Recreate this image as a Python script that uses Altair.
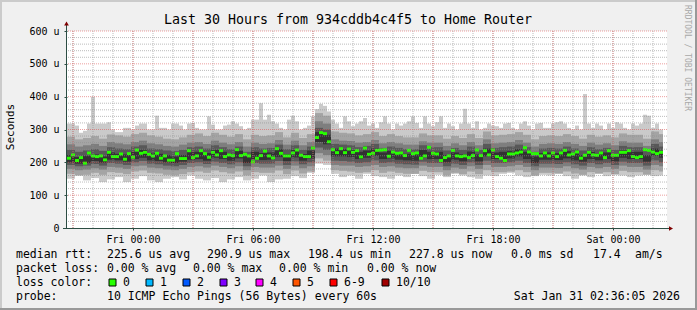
import altair as alt
import pandas as pd

TITLE = "Last 30 Hours from 934cddb4c4f5 to Home Router"

# median rtt (us), one value per 12-minute step
median = [213,223,206,215,198,229,220,218,220,208,
          231,218,218,226,210,227,216,238,228,231,
          225,220,228,213,220,207,207,227,212,212,
          236,215,220,236,227,216,231,223,236,218,
          223,221,239,221,225,220,202,213,221,235,
          220,214,242,228,220,220,229,238,222,218,
          218,244,276,291,288,263,239,230,242,230,
          241,231,236,217,244,225,228,237,238,239,
          219,232,228,229,221,237,227,229,213,220,
          246,228,226,206,215,220,237,220,218,220,
          215,221,238,221,236,223,238,218,213,206,
          226,226,229,232,245,232,227,227,220,229,
          220,229,218,229,237,223,226,232,213,222,
          231,223,222,229,215,236,222,222,231,231,
          236,218,215,218,239,237,232,227,231]

# outermost smoke (ping 10 of 10), per 12-minute step
l1_hi = [318,318,312,290,296,318,400,318,318,318,
         322,300,292,292,305,305,300,312,318,318,
         300,300,342,305,305,300,318,318,312,300,
         318,320,305,300,300,340,315,300,300,312,
         315,325,318,310,300,305,330,330,380,330,
         345,325,318,305,300,330,342,325,300,305,
         312,340,362,378,372,355,330,318,305,340,
         325,310,318,325,335,312,318,305,322,340,
         318,300,318,312,318,325,340,320,305,340,
         318,310,322,340,305,318,310,300,318,363,
         318,305,325,300,305,318,312,310,305,318,
         320,305,300,318,325,312,300,318,320,305,
         305,318,322,325,318,305,300,312,300,408,
         318,305,318,312,300,318,305,322,318,305,
         300,318,312,318,345,342,305,318,300]

# remaining smoke bounds, per 24-minute window
l1_lo = [150,160,145,152,140,148,155,140,150,158,
         145,140,150,155,148,160,150,145,152,140,
         148,155,145,150,160,140,148,150,158,152,
         168,196,192,165,155,160,150,165,158,155,
         150,160,155,165,158,150,162,155,165,160,
         155,150,160,158,165,168,160,155,158,162,
         160,165,158,150,160,155,165,158,162,160,
         155,160,165,158,160]
l2_lo = [165,160,162,168,162,170,168,164,172,175,
         168,166,162,160,164,170,172,168,175,170,
         166,172,160,170,168,168,175,164,175,166,
         172,212,205,176,174,172,168,170,176,168,
         172,168,165,165,174,170,170,160,168,164,
         172,164,176,170,170,172,176,170,160,168,
         168,166,172,166,162,170,166,170,164,174,
         170,170,162,176,172]
l2_hi = [278,270,274,280,272,285,282,278,286,290,
         282,278,272,270,276,284,288,280,290,284,
         278,286,270,284,280,282,292,276,290,274,
         286,350,342,294,290,288,282,286,292,280,
         286,280,276,276,288,282,282,272,280,274,
         286,274,294,282,284,286,292,284,270,280,
         282,280,286,280,272,284,278,282,276,288,
         284,284,272,294,286]
l3_lo = [180,176,178,182,178,186,184,180,188,190,
         184,182,178,176,180,186,188,184,190,186,
         182,188,176,186,184,184,190,180,190,182,
         188,228,222,192,190,190,186,188,192,186,
         188,184,182,182,190,186,186,176,184,180,
         188,180,192,186,186,188,192,186,176,184,
         184,183,188,182,178,186,182,186,180,190,
         186,186,178,192,188]
l3_hi = [255,248,252,256,250,262,258,255,262,266,
         258,255,250,248,254,260,262,256,266,260,
         255,262,248,260,256,258,268,254,266,252,
         262,325,318,270,266,265,260,262,268,258,
         262,258,254,254,264,260,260,250,258,252,
         262,252,270,258,260,262,268,260,248,256,
         258,256,262,256,250,260,254,258,252,264,
         260,260,250,270,262]
l4_lo = [192,188,190,195,190,198,196,192,200,204,
         196,194,190,188,192,198,200,195,202,198,
         194,200,188,198,196,196,204,192,203,194,
         200,245,238,205,204,202,198,200,206,198,
         200,196,194,193,202,198,198,188,196,192,
         200,192,205,198,198,200,205,198,188,196,
         196,195,200,194,190,198,194,198,192,202,
         198,198,190,206,200]
l4_hi = [238,232,236,240,235,246,242,240,248,252,
         242,240,236,234,238,246,248,242,252,246,
         240,248,232,246,242,244,254,240,252,238,
         248,305,300,256,254,252,246,250,256,244,
         248,244,240,240,252,246,246,236,244,238,
         248,238,256,244,246,248,254,246,232,242,
         244,242,248,242,236,246,240,244,238,250,
         246,246,236,256,248]
l5_lo = [200,196,198,204,199,208,206,202,210,214,
         206,204,200,198,202,208,210,205,214,210,
         205,212,198,210,207,208,216,204,215,205,
         212,262,255,218,218,216,210,214,220,210,
         212,208,206,205,215,210,210,200,208,203,
         212,203,218,210,210,212,218,210,198,208,
         208,207,212,206,202,210,206,210,203,214,
         210,210,202,220,214]
l5_hi = [222,216,220,224,218,230,226,224,232,238,
         228,226,222,218,222,231,232,228,238,232,
         226,235,218,232,228,230,240,225,238,225,
         236,292,284,242,240,238,232,236,242,230,
         235,230,226,226,238,232,232,222,230,224,
         233,224,242,230,232,234,240,232,218,228,
         230,228,234,228,222,232,226,230,224,236,
         232,232,222,242,235]

# axis ticks (hours from start of graph; Fri 00:00 at 3.3 h)
X_LABEL_POS = [3.3, 9.3, 15.3, 21.3, 27.3]
X_LABELS = ["Fri 00:00", "Fri 06:00", "Fri 12:00", "Fri 18:00", "Sat 00:00"]
X_MINOR = [0.3 + h for h in range(30)]
X_MAJOR = [0.3 + h for h in range(0, 30, 3)]
Y_MAJOR = [100, 200, 300, 400, 500, 600]
Y_MINOR = [v for v in range(20, 600, 20) if v % 100]
Y_TICKS = [0, 100, 200, 300, 400, 500, 600]

LOSS_LABELS = ["0", "1", "2", "3", "4", "5", "6-9", "10/10"]
LOSS_COLORS = ["#26ff00", "#00b8ff", "#0059ff", "#7e00ff", "#ff00ff", "#ff5500", "#ff0000", "#a10000"]

STEP_H = 0.2  # hours per median step
rows = []
for k, m in enumerate(median):
    j = k // 2
    rows.append(dict(t0=k * STEP_H, t1=(k + 1) * STEP_H, med_lo=m - 5, med_hi=m + 4,
                     l1lo=l1_lo[j], l1hi=l1_hi[k], l2lo=l2_lo[j], l2hi=l2_hi[j],
                     l3lo=l3_lo[j], l3hi=l3_hi[j], l4lo=l4_lo[j], l4hi=l4_hi[j],
                     l5lo=l5_lo[j], l5hi=l5_hi[j]))
df = pd.DataFrame(rows)

W, H = 600, 197
PL, PT = 67, 31
MONO = "DejaVu Sans Mono"
AXIS_C = "#2c4d43"

xs = alt.Scale(domain=[0, 30], nice=False, zero=False)
ys = alt.Scale(domain=[0, 600], nice=False, zero=False)

XAX = alt.Axis(values=X_LABEL_POS, title=None, domain=False, grid=False, ticks=True, tickSize=2,
               tickColor=AXIS_C, labelFont=MONO, labelFontSize=10, labelColor="#000",
               labelPadding=4, labelFlush=False,
               labelExpr="%s[round((datum.value - 3.3) / 6)]" % str(X_LABELS))
YAX = alt.Axis(values=Y_TICKS, title=None, domain=False, grid=False, ticks=True, tickSize=3,
               tickColor=AXIS_C, labelFont=MONO, labelFontSize=10, labelColor="#000",
               labelPadding=5, labelExpr="datum.value == 0 ? '0' : datum.value + ' u'")

base = alt.Chart(df)
layers = []
for name, col in [("l1", "#cacaca"), ("l2", "#a4a4a4"), ("l3", "#7e7e7e"),
                  ("l4", "#585858"), ("l5", "#323232")]:
    layers.append(base.mark_rect(color=col).encode(
        x=alt.X("t0:Q", scale=xs, axis=XAX), x2="t1:Q",
        y=alt.Y(f"{name}lo:Q", scale=ys, axis=YAX), y2=f"{name}hi:Q"))
layers.append(base.mark_rect(color=LOSS_COLORS[0]).encode(
    x=alt.X("t0:Q", scale=xs, axis=XAX), x2="t1:Q",
    y=alt.Y("med_lo:Q", scale=ys, axis=YAX), y2="med_hi:Q"))

# grid (drawn on top, like rrdtool)
layers.append(alt.Chart(pd.DataFrame({"v": Y_MINOR})).mark_rule(
    color="#8f8f8f", opacity=0.6, strokeDash=[1, 1], strokeWidth=1).encode(
    y=alt.Y("v:Q", scale=ys, axis=YAX)))
layers.append(alt.Chart(pd.DataFrame({"h": X_MINOR})).mark_rule(
    color="#8f8f8f", opacity=0.6, strokeDash=[1, 1], strokeWidth=1).encode(
    x=alt.X("h:Q", scale=xs, axis=XAX)))
layers.append(alt.Chart(pd.DataFrame({"v": Y_MAJOR})).mark_rule(
    color="#de5050", opacity=0.55, strokeDash=[1, 1], strokeWidth=1).encode(
    y=alt.Y("v:Q", scale=ys, axis=YAX)))
layers.append(alt.Chart(pd.DataFrame({"h": X_MAJOR})).mark_rule(
    color="#de5050", opacity=0.55, strokeDash=[1, 1], strokeWidth=1).encode(
    x=alt.X("h:Q", scale=xs, axis=XAX)))

one = pd.DataFrame({"a": [0]})


def hline(x1, x2, y, color, w=1):
    return alt.Chart(one).mark_rule(color=color, strokeWidth=w).encode(
        x=alt.value(x1 - PL), x2=alt.value(x2 - PL), y=alt.value(y - PT))


def vline(x, y1, y2, color, w=1):
    return alt.Chart(one).mark_rule(color=color, strokeWidth=w).encode(
        x=alt.value(x - PL), y=alt.value(y1 - PT), y2=alt.value(y2 - PT))


def txt(s, x, y, size=11.5, align="left", angle=0, color="#000", baseline="alphabetic"):
    return alt.Chart(one).mark_text(text=s, font=MONO, fontSize=size, align=align,
                                    baseline=baseline, angle=angle, color=color).encode(
        x=alt.value(x - PL), y=alt.value(y - PT))


# axes with arrows
layers.append(vline(66.5, 24, 228.5, AXIS_C))
layers.append(hline(63, 670, 228.5, AXIS_C))
layers.append(alt.Chart(one).mark_point(shape="triangle-up", filled=True, size=22,
                                        color="#7f0000", opacity=1).encode(
    x=alt.value(66.5 - PL), y=alt.value(23.5 - PT)))
layers.append(alt.Chart(one).mark_point(shape="triangle-right", filled=True, size=22,
                                        color="#7f0000", opacity=1).encode(
    x=alt.value(671 - PL), y=alt.value(228.5 - PT)))

# frame
layers.append(hline(0, 697, 1, "#cbcbcb", 2))
layers.append(vline(1, 0, 310, "#cbcbcb", 2))
layers.append(hline(0, 697, 309, "#999999", 2))
layers.append(vline(696, 0, 310, "#999999", 2))

# texts
layers.append(txt(TITLE, 348, 23.5, size=13.3, align="center"))
layers.append(txt("Seconds", 14, 127, size=11, align="center", angle=270))
layers.append(txt("RRDTOOL / TOBI OETIKER", 687, 5, size=8, angle=90, color="#a8a8a8",
                  baseline="middle"))

legend_items = [
    ("median rtt:", 16, 258), ("225.6 us avg", 107, 258), ("290.9 us max", 207, 258),
    ("198.4 us min", 308, 258), ("227.8 us now", 409, 258), ("0.0 ms sd", 511, 258),
    ("17.4", 593, 258), ("am/s", 635, 258),
    ("packet loss:", 16, 272), ("0.00 % avg", 107, 272), ("0.00 % max", 193, 272),
    ("0.00 % min", 279, 272), ("0.00 % now", 367, 272),
    ("loss color:", 16, 286),
    ("probe:", 16, 300), ("10 ICMP Echo Pings (56 Bytes) every 60s", 107, 300),
]
for s, x, y in legend_items:
    layers.append(txt(s, x, y))
layers.append(txt("Sat Jan 31 02:36:05 2026", 680, 300, align="right"))

box_x = [109, 146, 183, 220, 256, 293, 330, 382]
for bx, lab, col in zip(box_x, LOSS_LABELS, LOSS_COLORS):
    layers.append(alt.Chart(one).mark_rect(color=col, stroke="#000", strokeWidth=1).encode(
        x=alt.value(bx - PL), x2=alt.value(bx + 7 - PL),
        y=alt.value(279 - PT), y2=alt.value(286 - PT)))
    layers.append(txt(lab, bx + 14, 286))

chart = alt.layer(*layers).properties(
    width=W, height=H, background="#f0f0f0",
    padding={"left": PL, "top": PT, "right": 697 - PL - W, "bottom": 310 - PT - H},
    autosize=alt.AutoSizeParams(type="none"),
).configure_view(fill="white", stroke=None)

chart.save("out.html", embed_options={"renderer": "svg", "actions": False})
